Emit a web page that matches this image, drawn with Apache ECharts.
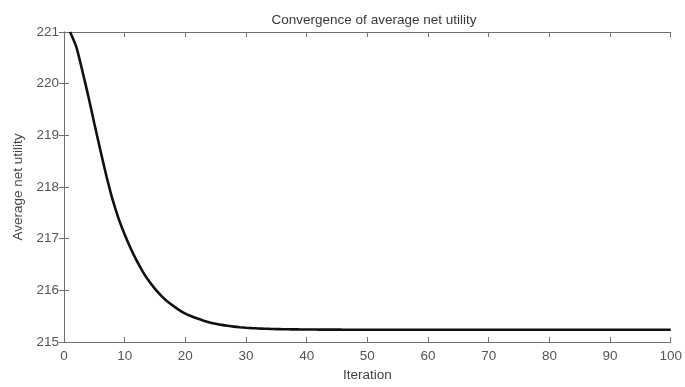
<!DOCTYPE html>
<html><head><meta charset="utf-8">
<script src="https://cdn.jsdelivr.net/npm/echarts@6/dist/echarts.min.js"></script>
<style>html,body{margin:0;padding:0;background:#fff}#c{width:685px;height:387px}</style>
</head><body><div id="c"></div>
<script>
const titleText = 'Convergence of average net utility';
const xName = 'Iteration';
const yName = 'Average net utility';
const iterations = Array.from({length: 100}, (_, i) => i + 1);
const utility = [
221.00,220.72,220.26,219.76,219.23,218.71,218.21,217.76,217.39,217.08,
216.81,216.57,216.36,216.18,216.03,215.90,215.79,215.70,215.62,215.55,
215.50,215.455,215.415,215.38,215.355,215.333,215.315,215.30,215.288,215.278,
215.27,215.264,215.259,215.255,215.252,215.25,215.248,215.246,215.245,215.244,
215.243,215.242,215.242,215.241,215.241,215.24,215.24,215.24,215.24,215.24,
215.24,215.24,215.24,215.24,215.24,215.24,215.24,215.24,215.24,215.24,
215.24,215.24,215.24,215.24,215.24,215.24,215.24,215.24,215.24,215.24,
215.24,215.24,215.24,215.24,215.24,215.24,215.24,215.24,215.24,215.24,
215.24,215.24,215.24,215.24,215.24,215.24,215.24,215.24,215.24,215.24,
215.24,215.24,215.24,215.24,215.24,215.24,215.24,215.24,215.24,215.24
];
const xMin = 0, xMax = 100, xStep = 10;
const yMin = 215, yMax = 221, yStep = 1;

const axisCol = '#707070';
const font = 'Liberation Sans, Arial, sans-serif';
const chart = echarts.init(document.getElementById('c'));
const tick = {show: true, inside: true, length: 5, lineStyle: {color: axisCol, width: 1}};
const baseX = {
  type: 'value', min: xMin, max: xMax, interval: xStep,
  axisLine: {show: true, lineStyle: {color: axisCol, width: 1}},
  axisTick: tick, splitLine: {show: false}
};
const baseY = {
  type: 'value', min: yMin, max: yMax, interval: yStep,
  axisLine: {show: true, lineStyle: {color: axisCol, width: 1}},
  axisTick: tick, splitLine: {show: false}
};
chart.setOption({
  animation: false,
  title: {text: titleText, left: 369, top: 8, textAlign: 'center',
    textStyle: {fontFamily: font, fontSize: 13.5, fontWeight: 'normal', color: '#3a3a3a'}},
  grid: {left: 64, right: 10, top: 32, bottom: 44},
  xAxis: [
    Object.assign({}, baseX, {position: 'bottom', name: xName, nameLocation: 'middle', nameGap: 25,
      nameTextStyle: {fontFamily: font, fontSize: 13.5, color: '#444'},
      axisLabel: {show: true, margin: 7, fontFamily: font, fontSize: 13.5, color: '#555'}}),
    Object.assign({}, baseX, {position: 'top', axisLabel: {show: false}})
  ],
  yAxis: [
    Object.assign({}, baseY, {position: 'left', name: yName, nameLocation: 'middle', nameGap: 37,
      nameTextStyle: {fontFamily: font, fontSize: 13.5, color: '#444'},
      axisLabel: {show: true, margin: 5, fontFamily: font, fontSize: 13.5, color: '#555'}}),
    Object.assign({}, baseY, {position: 'right', axisLabel: {show: false}})
  ],
  series: [{
    type: 'line', xAxisIndex: 0, yAxisIndex: 0,
    data: iterations.map((x, i) => [x, utility[i]]),
    showSymbol: false, smooth: 0.25,
    lineStyle: {color: '#111', width: 2.6}
  }]
});
</script></body></html>
